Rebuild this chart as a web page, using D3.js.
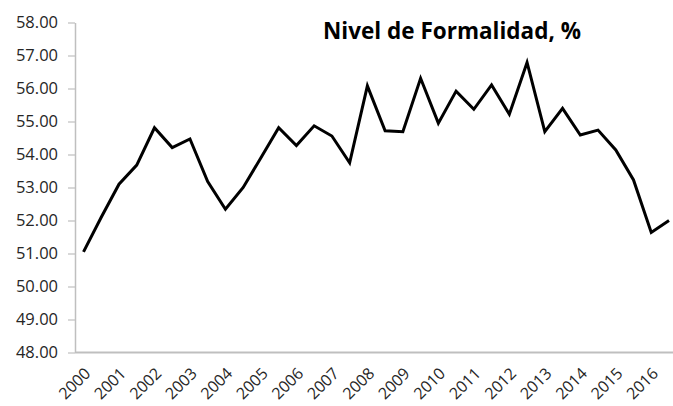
<!DOCTYPE html>
<html>
<head>
<meta charset="utf-8">
<script src="https://cdn.jsdelivr.net/npm/d3@7"></script>
<style>
  body { margin: 0; background: #fff; }
  text { font-family: "Open Sans", "Liberation Sans", sans-serif; }
</style>
</head>
<body>
<div id="chart"></div>
<script>
// Semiannual observations, 2000 to 2016 (two per year).
const years = d3.range(2000, 2017);
const periods = d3.range(34);
const values = [
    51.05, 52.10, 53.10, 53.68, 54.81, 54.21, 54.47, 53.18, 52.34, 53.00,
    53.90, 54.81, 54.27, 54.87, 54.56, 53.75, 56.08, 54.72, 54.69, 56.31,
    54.95, 55.92, 55.37, 56.11, 55.22, 56.79, 54.69, 55.40, 54.59, 54.74,
    54.14, 53.23, 51.64, 52.00
];
const yTicks = d3.range(48, 59, 1);
const title = 'Nivel de Formalidad, %';

const width = 673, height = 406;
const axisLeft = 75, axisRight = 673, axisTop = 22.5, axisBottom = 352.5;

const svg = d3.select('#chart').append('svg')
    .attr('width', width)
    .attr('height', height);

// Scales.
const x = d3.scalePoint()
    .domain(periods)
    .range([83.5, 669]);
const y = d3.scaleLinear()
    .domain([48, 58])
    .range([axisBottom, axisTop]);

// Y axis: tick marks outside, labels with two decimals.
const yAxis = svg.append('g')
    .attr('transform', 'translate(' + axisLeft + ',0)')
    .call(d3.axisLeft(y).tickValues(yTicks).tickFormat(d3.format('.2f'))
        .tickSize(7).tickSizeOuter(0).tickPadding(10));
yAxis.select('.domain').attr('stroke', '#bfbfbf').attr('stroke-width', 1.5);
yAxis.selectAll('.tick line').attr('stroke', '#bfbfbf').attr('stroke-width', 1.2);
yAxis.selectAll('.tick text')
    .attr('fill', '#262626')
    .attr('font-size', '16.5px')
    .attr('font-family', '"Open Sans", sans-serif');

// X axis line.
svg.append('line')
    .attr('x1', axisLeft).attr('x2', axisRight)
    .attr('y1', axisBottom).attr('y2', axisBottom)
    .attr('stroke', '#bfbfbf')
    .attr('stroke-width', 2);

// Year labels, one every second period, rotated.
svg.append('g').selectAll('text')
    .data(years)
    .enter()
    .append('text')
    .attr('transform', function (d, i) {
        return 'translate(' + (x(i * 2) + 4) + ',' + (axisBottom + 18) + ')rotate(-45)';
    })
    .attr('text-anchor', 'end')
    .attr('dy', '0.35em')
    .attr('fill', '#262626')
    .attr('font-size', '16px')
    .text(function (d) { return d; });

// The series line.
const line = d3.line()
    .x(function (d, i) { return x(i); })
    .y(function (d) { return y(d); });
svg.append('path')
    .datum(values)
    .attr('d', line)
    .attr('fill', 'none')
    .attr('stroke', '#000')
    .attr('stroke-width', 3)
    .attr('stroke-linejoin', 'miter');

// Title.
svg.append('text')
    .attr('x', 452)
    .attr('y', 39)
    .attr('text-anchor', 'middle')
    .attr('font-weight', 'bold')
    .attr('font-size', '22.5px')
    .attr('fill', '#000')
    .text(title);
</script>
</body>
</html>
